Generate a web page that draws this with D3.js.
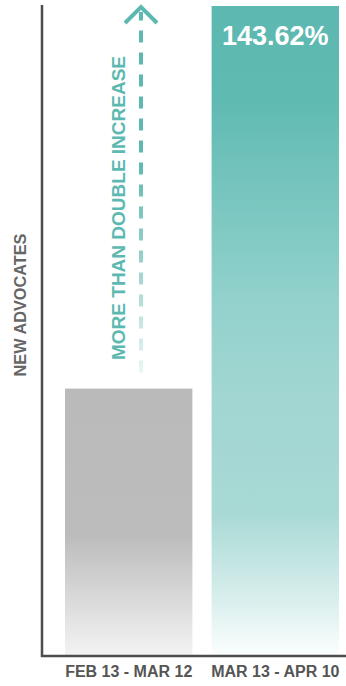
<!DOCTYPE html>
<html><head><meta charset="utf-8">
<script src="https://cdn.jsdelivr.net/npm/d3@7"></script>
<style>body{margin:0;background:#fff}svg{display:block}</style>
</head><body>
<script>
const categories = ["FEB 13 - MAR 12", "MAR 13 - APR 10"];
const values = [100, 243.62];
const valueLabels = ["", "143.62%"];
const yTitle = "NEW ADVOCATES";
const annotation = "MORE THAN DOUBLE INCREASE";

const FONT = "'Liberation Sans', Arial, sans-serif";
const W = 346, H = 686;
const m = {left: 42, right: 0, top: 6, bottom: 30};
const svg = d3.select("body").append("svg").attr("width", W).attr("height", H);
const defs = svg.append("defs");

const gGrad = defs.append("linearGradient").attr("id","gGray").attr("x1",0).attr("y1",0).attr("x2",0).attr("y2",1);
[[0,"#bababa"],[0.55,"#bcbcbc"],[1,"#f3f3f3"]].forEach(s=>gGrad.append("stop").attr("offset",s[0]).attr("stop-color",s[1]));
const tGrad = defs.append("linearGradient").attr("id","gTeal").attr("x1",0).attr("y1",0).attr("x2",0).attr("y2",1);
[[0,"#5cb8b0"],[0.14,"#5fbab2"],[0.45,"#92d1cc"],[0.6,"#a1d6d2"],[0.78,"#a8d9d5"],[0.9,"#d3ecea"],[1,"#fbfefe"]].forEach(s=>tGrad.append("stop").attr("offset",s[0]).attr("stop-color",s[1]));
const aGrad = defs.append("linearGradient").attr("id","gArrow").attr("gradientUnits","userSpaceOnUse").attr("x1",0).attr("y1",380).attr("x2",0).attr("y2",10);
[[0,"#5cb8b0",0.1],[0.3,"#5cb8b0",0.6],[0.6,"#5cb8b0",1],[1,"#5cb8b0",1]].forEach(s=>aGrad.append("stop").attr("offset",s[0]).attr("stop-color",s[1]).attr("stop-opacity",s[2]));
const txGrad = defs.append("linearGradient").attr("id","gText").attr("gradientUnits","userSpaceOnUse").attr("x1",0).attr("y1",365).attr("x2",0).attr("y2",55);
[[0,"#5cb8b0",0.55],[0.35,"#5cb8b0",0.85],[1,"#5cb8b0",1]].forEach(s=>txGrad.append("stop").attr("offset",s[0]).attr("stop-color",s[1]).attr("stop-opacity",s[2]));

const x = d3.scaleBand().domain(categories).range([65, 339]).paddingInner(0.131).paddingOuter(0);
const y = d3.scaleLinear().domain([0, d3.max(values)]).range([H - m.bottom - 1, m.top]);

svg.selectAll("rect.bar").data(values).join("rect").attr("class","bar")
  .attr("x",(d,i)=>x(categories[i])).attr("width",x.bandwidth())
  .attr("y",d=>y(d)).attr("height",d=>y(0)-y(d))
  .attr("fill",(d,i)=>i===0?"url(#gGray)":"url(#gTeal)");

// axes lines
svg.append("line").attr("x1",m.left).attr("x2",m.left).attr("y1",5).attr("y2",H-m.bottom+1).attr("stroke","#4d4d4d").attr("stroke-width",2.5);
svg.append("line").attr("x1",m.left-1).attr("x2",W).attr("y1",H-m.bottom).attr("y2",H-m.bottom).attr("stroke","#4d4d4d").attr("stroke-width",2.5);

// x labels
const xAxis = svg.append("g").attr("transform",`translate(0,${H-m.bottom})`).call(d3.axisBottom(x).tickSize(0).tickPadding(10));
xAxis.select(".domain").remove();
xAxis.selectAll("text").attr("font-family",FONT).attr("font-weight","bold").attr("font-size",16).attr("fill","#555").attr("dy","0.71em");

// value label
svg.selectAll("text.val").data(values).join("text").attr("class","val")
  .attr("x",(d,i)=>x(categories[i])+x.bandwidth()/2).attr("y",d=>y(d)+39)
  .attr("text-anchor","middle").attr("font-family",FONT).attr("font-weight","bold").attr("font-size",27).attr("fill","#fff")
  .text((d,i)=>valueLabels[i]);

// y title
svg.append("text").attr("transform",`translate(26,305) rotate(-90)`).attr("text-anchor","middle")
  .attr("font-family",FONT).attr("font-weight","bold").attr("font-size",16.3).attr("fill","#666").text(yTitle);

// arrow
const ax = 141;
svg.append("line").attr("x1",ax).attr("x2",ax).attr("y1",y(values[0])-16).attr("y2",12)
  .attr("stroke","url(#gArrow)").attr("stroke-width",4).attr("stroke-dasharray","12,10");
svg.append("path").attr("d",`M${ax-16},${23} L${ax},${7} L${ax+16},${23}`).attr("fill","none").attr("stroke","#5cb8b0").attr("stroke-width",4);

svg.append("text").attr("transform",`translate(125,208) rotate(-90)`).attr("text-anchor","middle")
  .attr("font-family",FONT).attr("font-weight","bold").attr("font-size",19).attr("fill","url(#gText)").text(annotation);
</script>
</body></html>
